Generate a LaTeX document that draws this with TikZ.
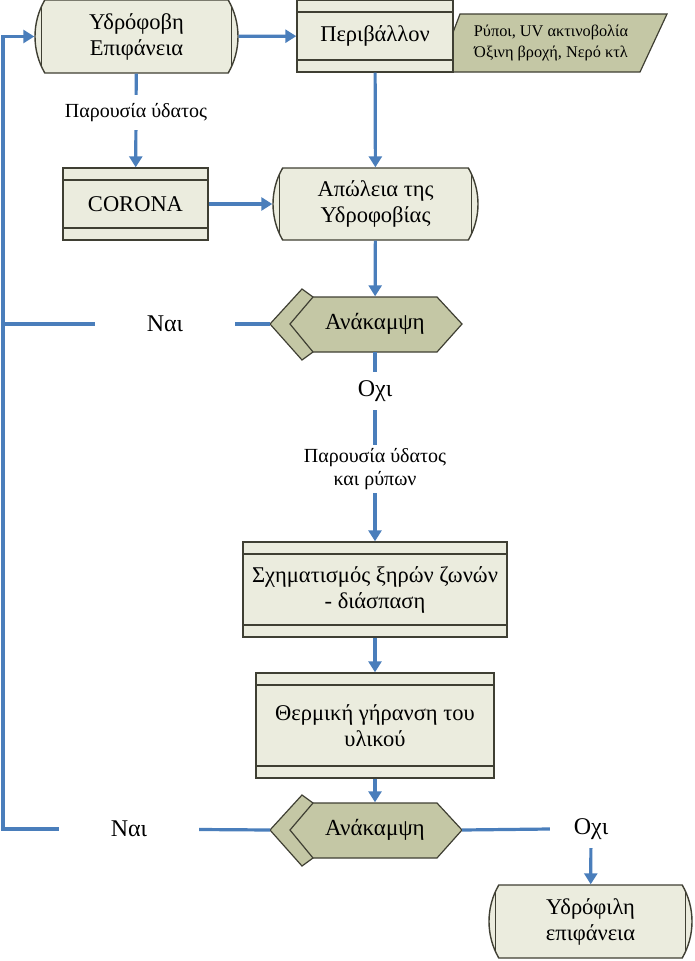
\documentclass[tikz,border=0pt]{standalone}
\usepackage{fontspec}
\setmainfont{Liberation Serif}
\usetikzlibrary{shapes.misc,arrows.meta}

\definecolor{flowblue}{HTML}{4A7EBB}
\definecolor{boxfill}{HTML}{EBECDE}
\definecolor{boxline}{HTML}{3F3F33}
\definecolor{hexfill}{HTML}{C4C7A5}

\tikzset{
  proc/.style={rectangle, draw=boxline, fill=boxfill, line width=1.4pt,
    align=center, inner sep=0pt, font=\fontsize{22.5}{26}\selectfont,
    path picture={\draw[boxline, line width=1.4pt]
      ([yshift=-12pt]path picture bounding box.north west) -- ([yshift=-12pt]path picture bounding box.north east)
      ([yshift=12pt]path picture bounding box.south west) -- ([yshift=12pt]path picture bounding box.south east);}},
  term/.style={rounded rectangle, rounded rectangle arc length=60, draw=boxline,
    fill=boxfill, line width=1.4pt, align=center, inner sep=0pt,
    font=\fontsize{22.5}{26}\selectfont,
    path picture={\draw[boxline, line width=1.4pt]
      ([xshift=10pt]path picture bounding box.north west) -- ([xshift=10pt]path picture bounding box.south west)
      ([xshift=-10pt]path picture bounding box.north east) -- ([xshift=-10pt]path picture bounding box.south east);}},
  hexshape/.style={draw=boxline, fill=hexfill, line width=1.2pt},
  lbl/.style={inner sep=0pt, align=center, font=\fontsize{20}{23}\selectfont},
  answer/.style={inner sep=0pt, font=\fontsize{24}{28}\selectfont},
  flow/.style={draw=flowblue, line width=3.2pt},
  arr/.style={flow, -{Triangle[length=11pt,width=13pt]}}
}

\begin{document}
\begin{tikzpicture}[x=1pt, y=-1pt]
\useasboundingbox (0,0) rectangle (694,961);

% main flow boxes
\draw[hexshape] (438,72) -- (460,14) -- (667,14) -- (640,72) -- cycle;
\node[lbl, font=\fontsize{16.3}{21}\selectfont] (agents) at (551,43) {Ρύποι, UV ακτινοβολία\\Όξινη βροχή, Νερό κτλ};

\node[term, minimum width=203pt, minimum height=73pt] (hydrophobic) at (136.5,36.5) {Υδρόφοβη\\Επιφάνεια};
\node[proc, minimum width=156pt, minimum height=72pt] (env) at (375,36) {Περιβάλλον};
\node[proc, minimum width=145pt, minimum height=72pt] (corona) at (135.5,204) {CORONA};
\node[term, minimum width=205pt, minimum height=72pt] (loss) at (375.5,204) {Απώλεια της\\Υδροφοβίας};
\node[proc, minimum width=264pt, minimum height=95pt] (dryband) at (375,589.5) {Σχηματισμός ξηρών ζωνών\\- διάσπαση};
\node[proc, minimum width=238pt, minimum height=105pt] (ageing) at (375,725.5) {Θερμική γήρανση του\\υλικού};
\node[term, minimum width=203pt, minimum height=73pt] (hydrophilic) at (590.5,921.5) {Υδρόφιλη\\επιφάνεια};

% recovery checks
\foreach \y/\n in {324/rec1, 830/rec2} {
  \draw[hexshape] (270,\y) -- (302,\y-35) -- (313,\y-27) -- (313,\y+28) -- (302,\y+36) -- cycle;
  \draw[hexshape] (290,\y) -- (313,\y-27) -- (437,\y-27) -- (462,\y) -- (437,\y+28) -- (313,\y+28) -- cycle;
  \node[lbl, font=\fontsize{23}{27}\selectfont, minimum width=124pt, minimum height=55pt] (\n) at (375,\y) {Ανάκαμψη};
  \coordinate (\n-in) at (270,\y);
  \coordinate (\n-out) at (462,\y);
}

% labels on the connectors
\node[lbl, minimum height=35pt] (water1) at (136,112.5) {Παρουσία ύδατος};
\node[lbl, minimum height=48pt] (water2) at (375,469) {Παρουσία ύδατος\\και ρύπων};
\node[answer, minimum width=140pt] (yes1) at (165,324) {Ναι};
\node[answer, minimum height=38pt] (no1) at (375,391) {Οχι};
\node[answer, minimum width=140pt] (yes2) at (129,829) {Ναι};
\node[answer, minimum width=82pt, minimum height=38pt] (no2) at (591,829) {Οχι};
\coordinate (loop) at (3,829);

\draw[arr] (hydrophobic) -- (env);
\draw[flow] (hydrophobic) -- (water1);
\draw[arr] (water1) -- (corona);
\draw[arr] (env) -- (loss);
\draw[arr] (corona) -- (loss);
\draw[arr] (loss) -- (rec1);
\draw[flow] (rec1-in) -- (yes1);
\draw[flow] (yes1.west) -- (yes1.west -| loop);
\draw[flow] (rec1) -- (no1);
\draw[flow] (no1) -- (water2);
\draw[arr] (water2) -- (dryband);
\draw[arr] (dryband) -- (ageing);
\draw[arr] (ageing) -- (rec2);
\draw[flow] (rec2-in) -- (yes2);
\draw[arr] (yes2.west) -- (loop) |- (hydrophobic.west);
\draw[flow] (rec2-out) -- (no2.west);
\draw[arr] (no2) -- (hydrophilic);

\end{tikzpicture}
\end{document}
